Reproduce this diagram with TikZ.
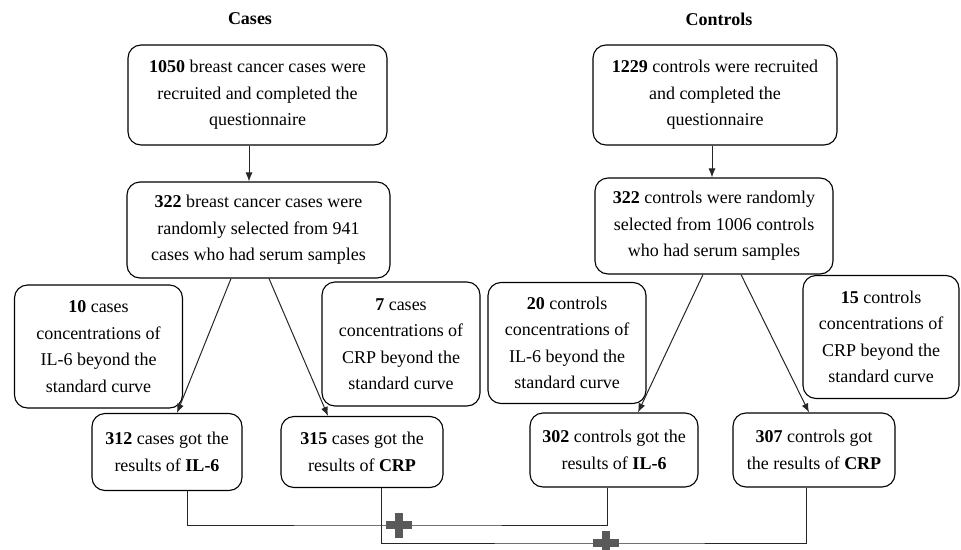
\documentclass[tikz,border=0pt]{standalone}
\usepackage{fontspec}
\setmainfont{Liberation Serif}
\usepackage{tikz}
\usetikzlibrary{arrows.meta, calc}

\begin{document}
\begin{tikzpicture}[x=1pt, y=-1pt,
    box/.style={draw, rectangle, rounded corners=13pt, line width=1.1pt, align=center, inner sep=2pt, font=\fontsize{18}{26.5}\selectfont},
    title/.style={font=\fontsize{18}{22}\selectfont\bfseries},
    link/.style={line width=1pt, draw=black!85},
    arrow/.style={link, -{Latex[length=9pt, width=7pt]}},
    joinmark/.style={fill=black!65}]
    \useasboundingbox (0,0) rectangle (961,549);

    % Titles
    \node[title] (casetitle) at (250,19) {Cases};
    \node[title] (ctrltitle) at (719,19) {Controls};

    % Cases
    \node[box, minimum width=259pt, minimum height=100pt] (caseall) at (257.5,95) {\textbf{1050} breast cancer cases were\\recruited and completed the\\questionnaire};
    \node[box, minimum width=263pt, minimum height=96pt] (casesel) at (258.5,230) {\textbf{322} breast cancer cases were\\randomly selected from 941\\cases who had serum samples};
    \node[box, minimum width=168pt, minimum height=123pt] (caseilout) at (98.5,346.5) {\textbf{10} cases\\concentrations of\\IL-6 beyond the\\standard curve};
    \node[box, minimum width=158pt, minimum height=124pt] (casecrpout) at (401,344) {\textbf{7} cases\\concentrations of\\CRP beyond the\\standard curve};
    \node[box, minimum width=150pt, minimum height=77pt] (caseil) at (167,452) {\textbf{312} cases got the\\results of \textbf{IL-6}};
    \node[box, minimum width=162pt, minimum height=71pt] (casecrp) at (362,452) {\textbf{315} cases got the\\results of \textbf{CRP}};

    % Controls
    \node[box, minimum width=244pt, minimum height=100pt] (ctrlall) at (715,95) {\textbf{1229} controls were recruited\\and completed the\\questionnaire};
    \node[box, minimum width=238pt, minimum height=96pt] (ctrlsel) at (714,226) {\textbf{322} controls were randomly\\selected from 1006 controls\\who had serum samples};
    \node[box, minimum width=158pt, minimum height=121pt] (ctrlilout) at (567,343) {\textbf{20} controls\\concentrations of\\IL-6 beyond the\\standard curve};
    \node[box, minimum width=156pt, minimum height=123pt] (ctrlcrpout) at (881,337) {\textbf{15} controls\\concentrations of\\CRP beyond the\\standard curve};
    \node[box, minimum width=168pt, minimum height=74pt] (ctrlil) at (614,450) {\textbf{302} controls got the\\results of \textbf{IL-6}};
    \node[box, minimum width=162pt, minimum height=74pt] (ctrlcrp) at (814,450) {\textbf{307} controls got\\the results of \textbf{CRP}};

    % Arrows
    \draw[arrow] ([xshift=-8.5pt]caseall.south) -- ([xshift=-9.5pt]casesel.north);
    \draw[arrow] ([xshift=-27.5pt]casesel.south) -- ([xshift=10pt]caseil.north);
    \draw[arrow] ([xshift=10.5pt]casesel.south) -- ([xshift=-34pt]casecrp.north);
    \draw[arrow] ([xshift=-3pt]ctrlall.south) -- ([xshift=-2pt]ctrlsel.north);
    \draw[arrow] ([xshift=-11pt]ctrlsel.south) -- ([xshift=24pt]ctrlil.north);
    \draw[arrow] ([xshift=27pt]ctrlsel.south) -- ([xshift=-5pt]ctrlcrp.north);

    % Combining IL-6 and CRP
    \coordinate (iljoin) at (398.5,525);
    \coordinate (crpjoin) at (605.5,543);
    \draw[link] ([xshift=20pt]caseil.south) |- (iljoin) -| ([xshift=-7pt]ctrlil.south);
    \draw[link] ([xshift=19pt]casecrp.south) |- (crpjoin) -| ([xshift=-8pt]ctrlcrp.south);
    \foreach \j in {iljoin, crpjoin} {
        \fill[joinmark] (\j) +(-13,-4) rectangle +(13,4);
        \fill[joinmark] (\j) +(-4,-12.5) rectangle +(4,12.5);
    }
\end{tikzpicture}
\end{document}
